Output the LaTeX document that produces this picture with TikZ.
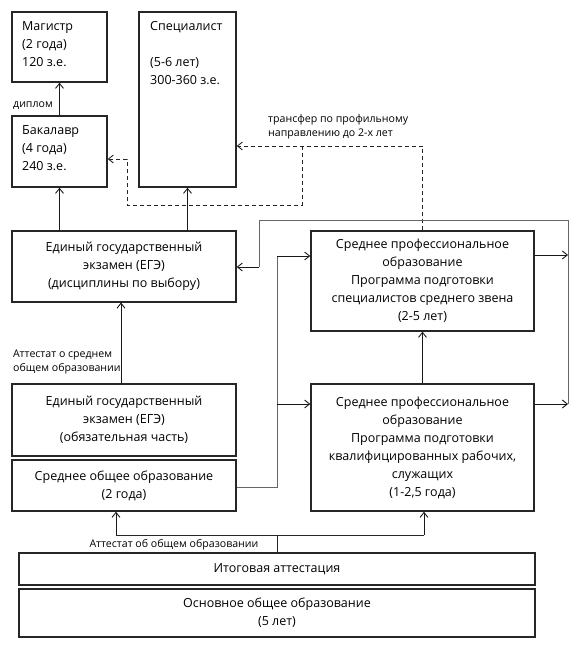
\documentclass[tikz,border=0pt]{standalone}
\usepackage{fontspec}
\setmainfont{Open Sans}
\usetikzlibrary{arrows.meta}
\begin{document}
\begin{tikzpicture}[x=1pt,y=-1pt,
  box/.style={draw=black!85, line width=1.4pt, inner sep=0pt, align=center,
    font=\fontsize{12.5}{18}\selectfont},
  tl/.style={anchor=north west, inner sep=0pt, align=left,
    font=\fontsize{12.5}{18}\selectfont},
  lbl/.style={inner sep=0pt, align=left, font=\fontsize{10.6}{14}\selectfont},
  arr/.style={draw=black!90, line width=0.9pt, -{Straight Barb[length=5pt,width=8pt]}},
  dasharr/.style={draw=black!85, line width=0.9pt, dash pattern=on 4pt off 3pt,
    -{Straight Barb[length=5pt,width=8pt]}},
  bus/.style={draw=black!60, line width=0.8pt},
  busdark/.style={draw=black!85, line width=0.9pt}
]
\useasboundingbox (0,0) rectangle (584,645);

% boxes
\node[box, minimum width=95pt, minimum height=70pt] (mag) at (59.5,47) {};
\node[box, minimum width=97pt, minimum height=175pt] (spec) at (187.5,99.5) {};
\node[box, minimum width=95pt, minimum height=71pt] (bak) at (59.5,151.5) {};
\node[tl] (magt) at (22,21) {Магистр\\(2 года)\\120 з.е.};
\node[tl] (spect) at (150,21) {Специалист\\[18pt](5-6 лет)\\300-360 з.е.};
\node[tl] (bakt) at (22,125) {Бакалавр\\(4 года)\\240 з.е.};

\node[box, minimum width=224pt, minimum height=71pt] (egev) at (124,266.5)
  {Единый государственный\\экзамен (ЕГЭ)\\(дисциплины по выбору)};
\node[box, minimum width=223pt, minimum height=100pt] (spos) at (422.5,281)
  {Среднее профессиональное\\образование\\Программа подготовки\\специалистов среднего звена\\(2-5 лет)};
\node[box, minimum width=224pt, minimum height=72pt] (egeo) at (124,420)
  {Единый государственный\\экзамен (ЕГЭ)\\(обязательная часть)};
\node[box, minimum width=224pt, minimum height=51pt] (soo) at (124,485.5)
  {Среднее общее образование\\(2 года)};
\node[box, minimum width=223pt, minimum height=127pt] (spow) at (422.5,447.5)
  {Среднее профессиональное\\образование\\Программа подготовки\\квалифицированных рабочих,\\служащих\\(1-2,5 года)};
\node[box, minimum width=516pt, minimum height=32pt] (itog) at (277,569)
  {Итоговая аттестация};
\node[box, minimum width=516pt, minimum height=48pt] (osn) at (277,613)
  {Основное общее образование\\(5 лет)};

% labels
\node[lbl, anchor=center] (ldip) at (33,106) {диплом};
\node[lbl, anchor=west] (ltr) at (268,127) {трансфер по профильному\\направлению до 2-х лет};
\node[lbl, anchor=west] (lat1) at (13,362) {Аттестат о среднем\\общем образовании};
\node[lbl, anchor=center] (lat2) at (174,545) {Аттестат об общем образовании};

% coordinates
\coordinate (d1) at (423,146);
\coordinate (d2) at (302,146);
\coordinate (d3) at (302,205);
\coordinate (d4) at (127,205);
\coordinate (d5) at (127,159);
\coordinate (r1) at (568,255);
\coordinate (r2) at (568,404);
\coordinate (r3) at (568,220);
\coordinate (r4) at (259,220);
\coordinate (r5) at (259,267);
\coordinate (s1) at (277,487);
\coordinate (s2) at (277,256);
\coordinate (s3) at (277,404);
\coordinate (b1) at (277,535);
\coordinate (b2) at (116,535);
\coordinate (b3) at (424,535);

% solid arrows
\draw[arr] (bak.north) -- (mag.south);
\draw[arr] (bak.south |- egev.north) -- (bak.south);
\draw[arr] (spec.south |- egev.north) -- (spec.south);
\draw[arr] (121,384) -- (121,302.5);
\draw[arr] (spow.north) -- (spos.south);

% dashed transfer
\draw[dasharr] (spos.north) |- (spec.east |- d1);
\draw[dasharr] (d2) -- (d3) -- (d4) -- (d5) -- (bak.east |- d5);

% loop back to EGE
\draw[arr] (spos.east |- r1) -- (r1);
\draw[arr] (spow.east |- r2) -- (r2);
\draw[bus] (r2) -- (r3) -- (r4) -- (r5);
\draw[arr] (r5) -- (egev.east |- r5);

% from SOO to SPO
\draw[bus] (soo.east |- s1) -- (s1) -- (s2);
\draw[arr] (s2) -- (spos.west |- s2);
\draw[arr] (s3) -- (spow.west |- s3);

% bottom
\draw[busdark] (itog.north -| b1) -- (b1);
\draw[busdark] (b2) -- (b3);
\draw[arr] (b2) -- (b2 |- soo.south);
\draw[arr] (b3) -- (b3 |- spow.south);
\end{tikzpicture}
\end{document}
